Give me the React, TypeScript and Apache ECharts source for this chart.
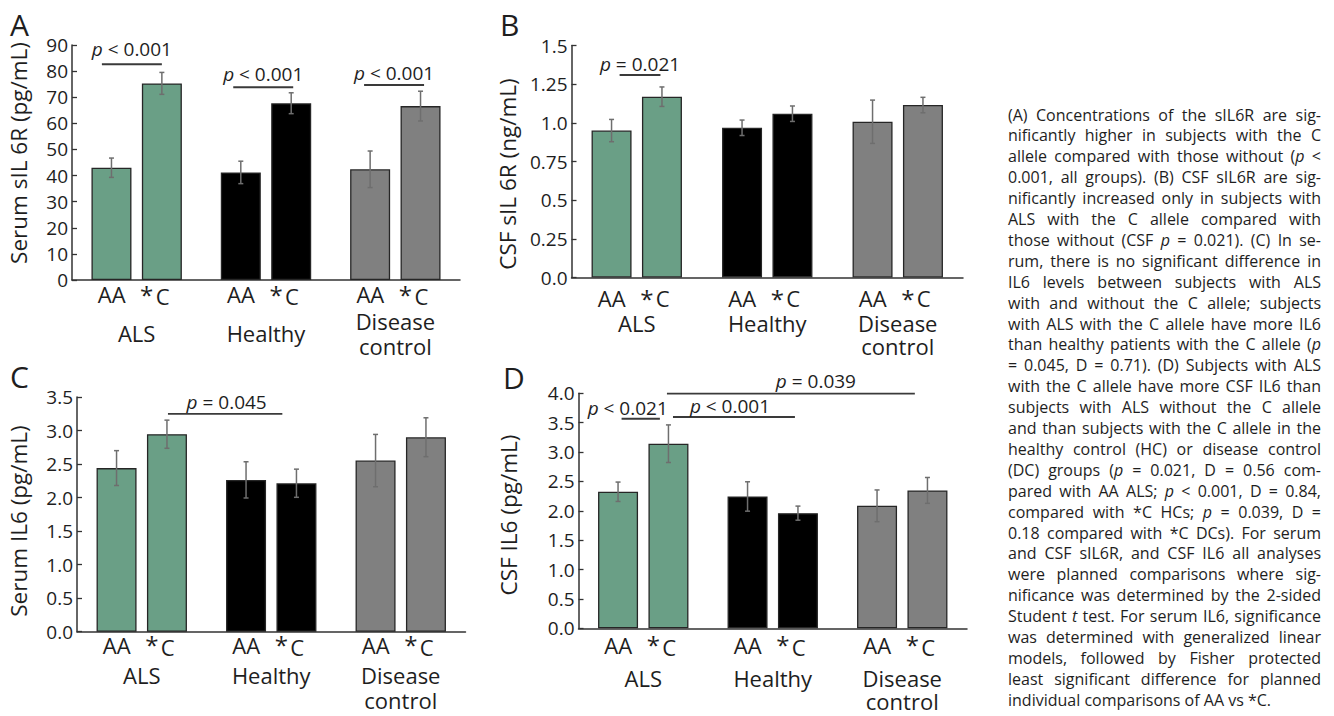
import React, { useEffect, useRef } from 'react';
import * as echarts from 'echarts';

const FONT = '"Open Sans", "Noto Sans", sans-serif';
const TEXT = '#1e1e1e';
const GREEN = '#6a9f86';
const BLACK = '#000000';
const GRAY = '#808080';
const GROUP_COLORS = [GREEN, BLACK, GRAY];
const ERR_COLOR = '#6e6e6e';
const AXIS_COLOR = '#333333';

// ---------- data ----------
const categories = ['ALS', 'Healthy', 'Disease control'];

// A: Serum sIL6R (pg/mL)
const serumSIL6R_AA = [43.0, 41.2, 42.4];
const serumSIL6R_AA_err = [3.7, 4.3, 7.0];
const serumSIL6R_C = [75.3, 67.7, 66.6];
const serumSIL6R_C_err = [4.2, 4.0, 5.7];
const serumSIL6R_pLabels = ['{i|p} < 0.001', '{i|p} < 0.001', '{i|p} < 0.001'];
const serumSIL6R_pLevels = [82.6, 73.8, 74.7];

// B: CSF sIL6R (ng/mL)
const csfSIL6R_AA = [0.95, 0.968, 1.007];
const csfSIL6R_AA_err = [0.072, 0.05, 0.14];
const csfSIL6R_C = [1.169, 1.059, 1.115];
const csfSIL6R_C_err = [0.063, 0.05, 0.05];
const csfSIL6R_pLabels = ['{i|p} = 0.021'];
const csfSIL6R_pLevels = [1.309];

// C: Serum IL6 (pg/mL)
const serumIL6_AA = [2.44, 2.264, 2.552];
const serumIL6_AA_err = [0.26, 0.27, 0.39];
const serumIL6_C = [2.945, 2.214, 2.9];
const serumIL6_C_err = [0.21, 0.21, 0.29];
const serumIL6_pLabels = ['{i|p} = 0.045'];
const serumIL6_pLevels = [3.249];

// D: CSF IL6 (pg/mL)
const csfIL6_AA = [2.324, 2.244, 2.085];
const csfIL6_AA_err = [0.165, 0.25, 0.27];
const csfIL6_C = [3.142, 1.96, 2.347];
const csfIL6_C_err = [0.32, 0.12, 0.22];
const csfIL6_pLabels = ['{i|p} < 0.021', '{i|p} < 0.001', '{i|p} = 0.039'];
const csfIL6_pLevels = [3.568, 3.597, 3.994];

const captionLines = [
  '(A) Concentrations of the sIL6R are sig-',
  'nificantly higher in subjects with the C',
  'allele compared with those without (<i>p</i> <',
  '0.001, all groups). (B) CSF sIL6R are sig-',
  'nificantly increased only in subjects with',
  'ALS with the C allele compared with',
  'those without (CSF <i>p</i> = 0.021). (C) In se-',
  'rum, there is no significant difference in',
  'IL6 levels between subjects with ALS',
  'with and without the C allele; subjects',
  'with ALS with the C allele have more IL6',
  'than healthy patients with the C allele (<i>p</i>',
  '= 0.045, D = 0.71). (D) Subjects with ALS',
  'with the C allele have more CSF IL6 than',
  'subjects with ALS without the C allele',
  'and than subjects with the C allele in the',
  'healthy control (HC) or disease control',
  '(DC) groups (<i>p</i> = 0.021, D = 0.56 com-',
  'pared with AA ALS; <i>p</i> < 0.001, D = 0.84,',
  'compared with *C HCs; <i>p</i> = 0.039, D =',
  '0.18 compared with *C DCs). For serum',
  'and CSF sIL6R, and CSF IL6 all analyses',
  'were planned comparisons where sig-',
  'nificance was determined by the 2-sided',
  'Student <i>t</i> test. For serum IL6, significance',
  'was determined with generalized linear',
  'models, followed by Fisher protected',
  'least significant difference for planned',
  'individual comparisons of AA vs *C.',
];

// ---------- panels ----------
const panels = [
  {
    letter: 'A', title: 'Serum sIL 6R (pg/mL)',
    aa: serumSIL6R_AA, aaErr: serumSIL6R_AA_err, c: serumSIL6R_C, cErr: serumSIL6R_C_err,
    pLabels: serumSIL6R_pLabels, pLevels: serumSIL6R_pLevels,
    yMin: 0, yMax: 90, yInterval: 10, fmt: (v: number) => String(v),
  },
  {
    letter: 'B', title: 'CSF sIL 6R (ng/mL)',
    aa: csfSIL6R_AA, aaErr: csfSIL6R_AA_err, c: csfSIL6R_C, cErr: csfSIL6R_C_err,
    pLabels: csfSIL6R_pLabels, pLevels: csfSIL6R_pLevels,
    yMin: 0, yMax: 1.5, yInterval: 0.25,
    fmt: (v: number) => (Number.isInteger(Math.round(v * 1000) / 500) ? v.toFixed(1) : v.toFixed(2)),
  },
  {
    letter: 'C', title: 'Serum IL6 (pg/mL)',
    aa: serumIL6_AA, aaErr: serumIL6_AA_err, c: serumIL6_C, cErr: serumIL6_C_err,
    pLabels: serumIL6_pLabels, pLevels: serumIL6_pLevels,
    yMin: 0, yMax: 3.5, yInterval: 0.5, fmt: (v: number) => v.toFixed(1),
  },
  {
    letter: 'D', title: 'CSF IL6 (pg/mL)',
    aa: csfIL6_AA, aaErr: csfIL6_AA_err, c: csfIL6_C, cErr: csfIL6_C_err,
    pLabels: csfIL6_pLabels, pLevels: csfIL6_pLevels,
    yMin: 0, yMax: 4, yInterval: 0.5, fmt: (v: number) => v.toFixed(1),
  },
];

// ---------- layout (pixels, styles) ----------
const BAR_W = 40;
const BAR_GAP = 0.26;
const STEP = BAR_W * (1 + BAR_GAP);

const layouts = [
  {
    grid: { left: 72, top: 45, width: 388, height: 235 },
    letter: [10, 24], title: [18, 153],
    label: { margin: 0, lh1: 28, lhc: 25, middle: true, cDrop: 4 },
    // bracket geometry: [cat0, offset0, cat1, offset1, textDx, textDy]
    brackets: [
      [0, -0.69, 0, 0.5, 0, -15],
      [1, -0.65, 1, 0.54, 0, -13],
      [2, -0.62, 2, 0.57, 0, -12],
    ],
  },
  {
    grid: { left: 571.5, top: 45.5, width: 391.5, height: 232 },
    letter: [500, 24], title: [507, 174],
    label: { margin: 7.5, lh1: 26, lhc: 23.5, middle: false, cDrop: 0 },
    brackets: [[0, -0.34, 0, 0.47, 0, -11]],
  },
  {
    grid: { left: 77, top: 397, width: 388.5, height: 234.7 },
    letter: [10, 376], title: [18, 521],
    label: { margin: -5, lh1: 36, lhc: 25, middle: false, cDrop: 4 },
    brackets: [[0, 0.52, 1, 0.22, 1.5, -12.3]],
  },
  {
    grid: { left: 578.5, top: 393.3, width: 388.5, height: 235 },
    letter: [503, 377], title: [508, 515],
    label: { margin: -4.5, lh1: 42, lhc: 23.5, middle: false, cDrop: 4 },
    brackets: [
      [0, -0.43, 0, 0.33, -13, -10.7],
      [0, 0.59, 1, 0.44, -4, -10.6],
      [0, 0.47, 2, 0.25, 25, -12.3],
    ],
  },
];

function errRender(slot: number) {
  return (params: any, api: any) => {
    const cat = api.value(0);
    const mean = api.value(1);
    const err = api.value(2);
    const cx = api.coord([cat, 0])[0] + (slot - 0.5) * STEP;
    const top = api.coord([cat, mean + err])[1];
    const bot = api.coord([cat, mean - err])[1];
    const style = { stroke: ERR_COLOR, lineWidth: 1.5 };
    return {
      type: 'group',
      children: [
        { type: 'line', shape: { x1: cx, y1: top, x2: cx, y2: bot }, style },
        { type: 'line', shape: { x1: cx - 2.5, y1: top, x2: cx + 2.5, y2: top }, style },
        { type: 'line', shape: { x1: cx - 2.5, y1: bot, x2: cx + 2.5, y2: bot }, style },
      ],
    };
  };
}

function bracketRender(labels: string[], geom: number[][]) {
  return (params: any, api: any) => {
    const g = geom[params.dataIndex];
    const level = api.value(1);
    const x0 = api.coord([g[0], 0])[0] + g[1] * STEP;
    const x1 = api.coord([g[2], 0])[0] + g[3] * STEP;
    const y = api.coord([g[0], level])[1];
    return {
      type: 'group',
      children: [
        { type: 'line', shape: { x1: x0, y1: y, x2: x1, y2: y }, style: { stroke: '#3a3a3a', lineWidth: 1.9 } },
        {
          type: 'text',
          x: (x0 + x1) / 2 + g[4],
          y: y + g[5],
          style: {
            text: labels[params.dataIndex],
            fontSize: 19,
            fontFamily: FONT,
            fill: TEXT,
            align: 'center',
            verticalAlign: 'middle',
            rich: { i: { fontStyle: 'italic', fontSize: 19, fontFamily: FONT, fill: TEXT } },
          },
        },
      ],
    };
  };
}

function buildCaption(): any[] {
  const X0 = 1008;
  const X1 = 1321;
  const W = X1 - X0;
  const Y0 = 114.5;
  const LH = 20.9;
  const ctx = document.createElement('canvas').getContext('2d') as CanvasRenderingContext2D;
  const measure = (t: string, it: boolean, fs: number) => {
    ctx.font = `${it ? 'italic ' : ''}${fs}px "Open Sans"`;
    return ctx.measureText(t).width;
  };
  const parse = (line: string) =>
    line.split(' ').map((word) => {
      const segs: { t: string; it: boolean }[] = [];
      const re = /<i>(.*?)<\/i>/g;
      let last = 0;
      let m: RegExpExecArray | null;
      while ((m = re.exec(word))) {
        if (m.index > last) segs.push({ t: word.slice(last, m.index), it: false });
        segs.push({ t: m[1], it: true });
        last = re.lastIndex;
      }
      if (last < word.length) segs.push({ t: word.slice(last), it: false });
      return segs;
    });
  const parsed = captionLines.map(parse);
  const wordW = (w: { t: string; it: boolean }[], fs: number) => w.reduce((a, s) => a + measure(s.t, s.it, fs), 0);
  let fs = 16;
  const natural = (words: any[], f: number) =>
    words.reduce((s, w) => s + wordW(w, f), 0) + (words.length - 1) * measure(' ', false, f) * 0.75;
  const maxW = Math.max(...parsed.slice(0, -1).map((w) => natural(w, fs)));
  if (maxW > W) fs = (fs * W) / maxW;
  const els: any[] = [];
  parsed.forEach((words, li) => {
    const y = Y0 + li * LH;
    const widths = words.map((w) => wordW(w, fs));
    const total = widths.reduce((a, b) => a + b, 0);
    const isLast = li === parsed.length - 1;
    const gap = isLast || words.length < 2 ? measure(' ', false, fs) : (W - total) / (words.length - 1);
    let x = X0;
    words.forEach((w, wi) => {
      let sx = x;
      w.forEach((s) => {
        els.push({
          type: 'text',
          x: sx,
          y,
          silent: true,
          style: {
            text: s.t,
            fontSize: fs,
            fontFamily: FONT,
            fontStyle: s.it ? 'italic' : 'normal',
            fill: TEXT,
            align: 'left',
            verticalAlign: 'middle',
          },
        });
        sx += measure(s.t, s.it, fs);
      });
      x += widths[wi] + gap;
    });
  });
  return els;
}

function buildOption() {
  const grid: any[] = [];
  const xAxis: any[] = [];
  const yAxis: any[] = [];
  const series: any[] = [];
  const graphic: any[] = [];

  panels.forEach((p, i) => {
    const L = layouts[i];
    grid.push({ ...L.grid, containLabel: false });
    const lab = L.label;
    xAxis.push({
      type: 'category',
      gridIndex: i,
      data: categories,
      axisTick: { show: false },
      axisLine: { show: true, lineStyle: { color: AXIS_COLOR, width: 1.5 } },
      axisLabel: {
        interval: 0,
        margin: lab.margin,
        color: TEXT,
        fontFamily: FONT,
        formatter: (name: string) => {
          const lines = name === 'Disease control' ? ['Disease', 'control'] : [name];
          const catPart =
            lines.length === 1 && lab.middle ? `{catTall|${name}}` : lines.map((l) => `{cat|${l}}`).join('\n');
          return `{aa|AA}{ast|*}{cc|C}{sp| }\n${catPart}`;
        },
        rich: {
          aa: { width: 50, align: 'center', fontSize: 22, lineHeight: lab.lh1, fontFamily: FONT, color: TEXT },
          ast: { width: 20, align: 'center', fontSize: 24, lineHeight: lab.lh1, fontFamily: FONT, color: TEXT },
          cc: {
            width: 12, align: 'center', fontSize: 22, lineHeight: lab.lh1, fontFamily: FONT, color: TEXT,
            padding: [lab.cDrop, 0, 0, 0],
          },
          sp: { width: 18, align: 'center', fontSize: 10, lineHeight: lab.lh1, fontFamily: FONT, color: TEXT },
          cat: { fontSize: 22, lineHeight: lab.lhc, fontFamily: FONT, color: TEXT },
          catTall: { fontSize: 22, lineHeight: lab.lhc * 2, fontFamily: FONT, color: TEXT },
        },
      },
    });
    yAxis.push({
      type: 'value',
      gridIndex: i,
      min: p.yMin,
      max: p.yMax,
      interval: p.yInterval,
      splitLine: { show: false },
      axisLine: { show: true, lineStyle: { color: AXIS_COLOR, width: 1.5 } },
      axisTick: { show: true, inside: true, length: 5, lineStyle: { color: AXIS_COLOR, width: 1.3 } },
      axisLabel: { fontSize: 19, fontFamily: FONT, color: TEXT, margin: 4, formatter: p.fmt },
    });

    const barStyle = { borderColor: '#262626', borderWidth: 1.3 };
    series.push({
      type: 'bar',
      name: 'AA',
      xAxisIndex: i,
      yAxisIndex: i,
      barWidth: BAR_W,
      barGap: `${BAR_GAP * 100}%`,
      z: 2,
      data: p.aa.map((v, k) => ({ value: v, itemStyle: { color: GROUP_COLORS[k], ...barStyle } })),
    });
    series.push({
      type: 'bar',
      name: '*C',
      xAxisIndex: i,
      yAxisIndex: i,
      barWidth: BAR_W,
      barGap: `${BAR_GAP * 100}%`,
      z: 2,
      data: p.c.map((v, k) => ({ value: v, itemStyle: { color: GROUP_COLORS[k], ...barStyle } })),
    });
    series.push({
      type: 'custom',
      xAxisIndex: i,
      yAxisIndex: i,
      z: 3,
      clip: false,
      encode: { x: 0, y: 1 },
      renderItem: errRender(0),
      data: p.aa.map((v, k) => [k, v, p.aaErr[k]]),
    });
    series.push({
      type: 'custom',
      xAxisIndex: i,
      yAxisIndex: i,
      z: 3,
      clip: false,
      encode: { x: 0, y: 1 },
      renderItem: errRender(1),
      data: p.c.map((v, k) => [k, v, p.cErr[k]]),
    });
    series.push({
      type: 'custom',
      xAxisIndex: i,
      yAxisIndex: i,
      z: 4,
      clip: false,
      encode: { x: 0, y: 1 },
      renderItem: bracketRender(p.pLabels, L.brackets),
      data: p.pLevels.map((lv, k) => [L.brackets[k][0], lv]),
    });

    graphic.push({
      type: 'text',
      x: L.letter[0],
      y: L.letter[1],
      style: { text: p.letter, fontSize: 30, fontFamily: FONT, fill: TEXT, align: 'left', verticalAlign: 'middle' },
    });
    graphic.push({
      type: 'text',
      x: L.title[0],
      y: L.title[1],
      rotation: Math.PI / 2,
      style: { text: p.title, fontSize: 22.5, fontFamily: FONT, fill: TEXT, align: 'center', verticalAlign: 'middle' },
    });
  });

  graphic.push(...buildCaption());

  return {
    animation: false,
    backgroundColor: '#ffffff',
    textStyle: { fontFamily: FONT },
    grid,
    xAxis,
    yAxis,
    series,
    graphic,
  };
}

export default function App() {
  const ref = useRef<HTMLDivElement>(null);
  useEffect(() => {
    document.body.style.margin = '0';
    if (!ref.current) return;
    const chart = echarts.init(ref.current, undefined, { renderer: 'svg' });
    chart.setOption(buildOption() as any);
    return () => chart.dispose();
  }, []);
  return <div ref={ref} style={{ width: 1334, height: 716 }} />;
}
